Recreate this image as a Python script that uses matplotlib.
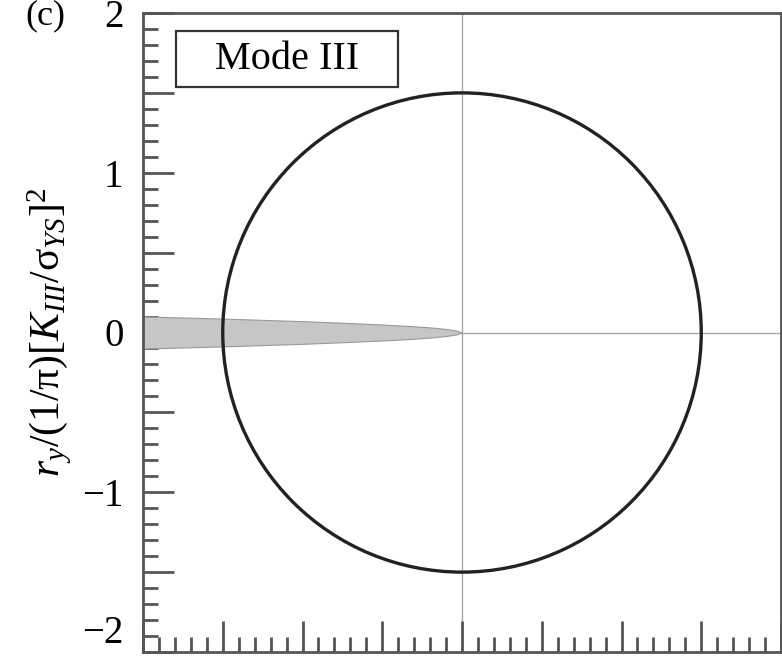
import matplotlib
matplotlib.use("Agg")
import matplotlib.pyplot as plt
from matplotlib.ticker import MultipleLocator, FuncFormatter
from matplotlib.patches import Circle, Rectangle
import numpy as np

# ---- data ----
zone_radius = 1.5  # plastic zone radius (Mode III): circle centred at crack tip
crack_x = [-2.0, -1.75, -1.5, -1.25, -1.0, -0.75, -0.5, -0.35, -0.2, -0.1, -0.04, 0.0]
crack_half = [0.100, 0.094, 0.087, 0.079, 0.071, 0.061, 0.050, 0.042, 0.032, 0.022, 0.013, 0.0]
y_tick_labels = [-2, -1, 0, 1, 2]
panel_label = "(c)"
box_label = "Mode III"

plt.rcParams['mathtext.fontset'] = 'custom'
plt.rcParams['mathtext.rm'] = 'Liberation Serif'
plt.rcParams['mathtext.it'] = 'Liberation Serif:italic'
plt.rcParams['mathtext.bf'] = 'Liberation Serif:bold'
plt.rcParams['font.family'] = ['Liberation Serif', 'DejaVu Serif']

fig = plt.figure(figsize=(7.82, 6.63), dpi=100)
ax = fig.add_axes([143/782, 11/663, 638/782, 639/663])
ax.set_xlim(-2, 2)
ax.set_ylim(-2, 2)

spine_c = '#555555'
for s in ax.spines.values():
    s.set_color(spine_c)
    s.set_linewidth(2.0)

# reference lines
ax.axvline(0, color='#aaaaaa', lw=1.0, zorder=1)
ax.plot([0, 2], [0, 0], color='#aaaaaa', lw=1.0, zorder=1)

# crack
cx = np.array(crack_x)
ch = np.array(crack_half)
ax.fill_between(cx, -ch, ch, facecolor='#c6c6c6', edgecolor='#999999', lw=0.8, zorder=2)

# plastic zone circle
ax.add_patch(Circle((0, 0), zone_radius, fill=False, ec='#222222', lw=2.4, zorder=3))

# ticks
ax.xaxis.set_major_locator(MultipleLocator(0.5))
ax.xaxis.set_minor_locator(MultipleLocator(0.1))
ax.yaxis.set_major_locator(MultipleLocator(0.5))
ax.yaxis.set_minor_locator(MultipleLocator(0.1))
ax.tick_params(axis='both', which='major', direction='in', length=22, width=2, color=spine_c)
ax.tick_params(axis='both', which='minor', direction='in', length=11, width=2, color=spine_c)
ax.tick_params(axis='x', which='both', labelbottom=False, top=False)
ax.tick_params(axis='y', which='both', right=False, labelsize=28, pad=14)

def yfmt(v, pos):
    for t in y_tick_labels:
        if abs(v - t) < 1e-6:
            return ('\u2212%d' % abs(t)) if t < 0 else '%d' % t
    return ''
ax.yaxis.set_major_formatter(FuncFormatter(yfmt))
for lbl in ax.get_yticklabels():
    pass
fig.canvas.draw()
for tk in ax.yaxis.get_major_ticks():
    if abs(tk.get_loc() + 2) < 1e-6:
        tk.label1.set_va('bottom')
        tk.label1.set_y(-2)

ax.set_ylabel(r'$r_y/(1/\mathrm{\pi})[K_{III}/\mathrm{\sigma}_{YS}]^2$', fontsize=30, labelpad=6)

# Mode III box
ax.add_patch(Rectangle((0.0517, 0.884), 0.3483, 0.088, transform=ax.transAxes,
                       fill=True, fc='white', ec='#333333', lw=1.6, zorder=5))
ax.text(0.2258, 0.928, box_label, transform=ax.transAxes, fontsize=29,
        ha='center', va='center', zorder=6)

fig.text(45/782, 1 - 16/663, panel_label, fontsize=26, ha='center', va='center')

fig.savefig('out.png', dpi=100)
